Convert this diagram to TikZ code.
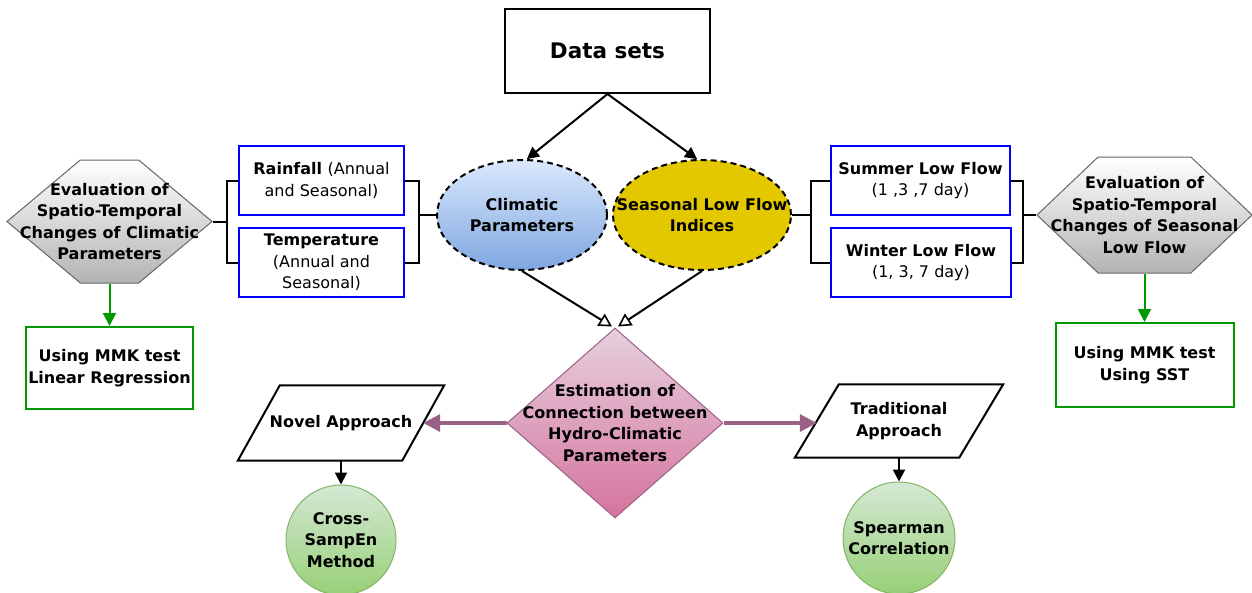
\documentclass[tikz,border=0pt]{standalone}
\usepackage{fontspec}
\setmainfont{DejaVu Sans}
\usetikzlibrary{shapes.geometric,shapes.symbols,arrows.meta,calc}
\definecolor{blueb}{HTML}{0000FF}
\definecolor{greenb}{HTML}{009900}
\definecolor{purp}{HTML}{996185}
\definecolor{hexborder}{HTML}{666666}
\definecolor{hexbot}{HTML}{B3B3B3}
\definecolor{climtop}{HTML}{DAE8FC}
\definecolor{climbot}{HTML}{7EA6E0}
\definecolor{seasfill}{HTML}{E3C800}
\definecolor{diatop}{HTML}{E6D0DE}
\definecolor{diabot}{HTML}{D5739D}
\definecolor{circtop}{HTML}{D5E8D4}
\definecolor{circbot}{HTML}{97D077}
\definecolor{circborder}{HTML}{82B366}
\tikzset{
  txt/.style={font=\fontsize{16}{21.5}\selectfont\bfseries},
  bluebox/.style={draw=blueb, line width=2pt, minimum width=165, minimum height=69, inner sep=0, align=center, txt},
  greenbox/.style={draw=greenb, line width=2pt, minimum width=167, minimum height=82, inner sep=0, align=center, txt},
  hexa/.style={signal, signal to=west and east, draw=hexborder, line width=1pt, top color=white, bottom color=hexbot, inner sep=0, txt},
  ell/.style={ellipse, draw=black, line width=2pt, dash pattern=on 6pt off 4pt, minimum height=110, inner sep=0, txt},
  parabox/.style={rectangle, minimum width=164, minimum height=75, inner sep=0, align=center, txt},
  circ/.style={circle, draw=circborder, line width=1pt, top color=circtop, bottom color=circbot, inner sep=0, txt},
  ctext/.style={align=center, txt},
  blk/.style={draw=black, line width=2pt},
  blkarrow/.style={blk, -{Triangle[length=12pt,width=12pt]}},
  openarrow/.style={blk, -{Triangle[open,length=13pt,width=14pt,line width=1.6pt]}},
  purparrow/.style={draw=purp, line width=3.5pt, -{Triangle[length=17pt,width=17pt]}},
  greenarrow/.style={draw=greenb, line width=2pt, -{Triangle[length=13pt,width=13pt]}}
}
\begin{document}
\begin{tikzpicture}[x=1pt,y=-1pt]
\useasboundingbox (0,0) rectangle (1252,592);
\clip (0,0) rectangle (1252,592);

\node[blk, minimum width=205, minimum height=84, inner sep=0, font=\fontsize{21.5}{26}\selectfont\bfseries] (data) at (607.5,51) {Data sets};

\node[ell, minimum width=170, top color=climtop, bottom color=climbot,
  label={[ctext]center:Climatic\\Parameters}] (clim) at (522,215) {};
\node[ell, minimum width=178, fill=seasfill,
  label={[ctext]center:Seasonal Low Flow\\Indices}] (seas) at (702,215) {};

\node[diamond, draw=purp, line width=1pt, top color=diatop, bottom color=diabot, minimum width=216, minimum height=190, inner sep=0,
  label={[ctext]center:Estimation of\\Connection between\\Hydro-Climatic\\Parameters}] (dia) at (615,423) {};

% parallelograms
\node[parabox] (novel) at (341,423) {Novel Approach};
\draw[blk] ($(novel.north west)+(21,0)$) -- ($(novel.north east)+(21,0)$) -- ($(novel.south east)+(-21,0)$) -- ($(novel.south west)+(-21,0)$) -- cycle;
\node[parabox, minimum height=73] (trad) at (899,421) {Traditional\\Approach};
\draw[blk] ($(trad.north west)+(22,0)$) -- ($(trad.north east)+(22,0)$) -- ($(trad.south east)+(-22,0)$) -- ($(trad.south west)+(-22,0)$) -- cycle;

\node[circ, minimum size=110, label={[ctext]center:Cross-\\SampEn\\Method}] (cross) at (341,540) {};
\node[circ, minimum size=112, label={[ctext]center:Spearman\\Correlation}] (spear) at (899,538) {};

\node[hexa, signal pointer angle=80, minimum width=205, minimum height=123,
  label={[ctext]center:Evaluation of\\Spatio-Temporal\\Changes of Climatic\\Parameters}] (hexL) at (109.5,221.5) {};
\node[hexa, signal pointer angle=87, minimum width=215, minimum height=116,
  label={[ctext]center:Evaluation of\\Spatio-Temporal\\Changes of Seasonal\\Low Flow}] (hexR) at (1144.5,215) {};

\node[greenbox] (gl) at (109.5,368) {Using MMK test\\Linear Regression};
\node[greenbox, minimum width=178, minimum height=84] (gr) at (1144.5,365) {Using MMK test\\Using SST};

\node[bluebox] (rain) at (321.5,180.5) {Rainfall {\mdseries (Annual}\\{\mdseries and Seasonal)}};
\node[bluebox] (temp) at (321.5,262.5) {Temperature\\{\mdseries (Annual and}\\{\mdseries Seasonal)}};
\node[bluebox, minimum width=179] (sum) at (920.5,180.5) {Summer Low Flow\\{\mdseries (1 ,3 ,7 day)}};
\node[bluebox, minimum width=180] (win) at (921,262.5) {Winter Low Flow\\{\mdseries (1, 3, 7 day)}};

% data set arrows
\draw[blkarrow] (data.south) -- (clim.85);
\draw[blkarrow] (data.south) -- (seas.95);

% ellipses to diamond
\coordinate (tipL) at ($(dia.north)+(-3,-1)$);
\coordinate (tipR) at ($(dia.north)+(3,-1)$);
\draw[openarrow] (clim.south) -- (tipL);
\draw[openarrow] (seas.south) -- (tipR);

% diamond to approaches
\draw[purparrow] (dia.west) -- (novel.east);
\draw[purparrow] (dia.east) -- (trad.west |- dia.east);

% approaches to methods
\draw[blkarrow] (novel.south) -- (cross.north);
\draw[blkarrow] (trad.south) -- (spear.north);

% hexagons to boxes
\draw[greenarrow] (hexL.south) -- (gl.north);
\draw[greenarrow] (hexR.south) -- (gr.north);

% left brackets
\draw[blk] (hexL.east) -- ++(14,0) coordinate (lb);
\draw[blk] (rain.west) -| (lb) |- (temp.west);
\draw[blk] (clim.west) -- ++(-17,0) coordinate (rb);
\draw[blk] (rain.east) -| (rb) |- (temp.east);

% right brackets
\draw[blk] (seas.east) -- ++(19,0) coordinate (lb2);
\draw[blk] (sum.west) -| (lb2) |- (win.west);
\draw[blk] (hexR.west) -- ++(-13,0) coordinate (rb2);
\draw[blk] (sum.east) -| (rb2) |- (win.east);
\end{tikzpicture}
\end{document}
